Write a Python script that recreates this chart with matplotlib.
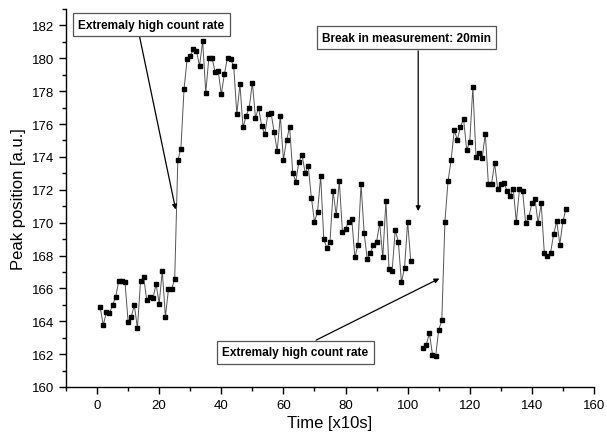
import numpy as np
import matplotlib
matplotlib.use("Agg")
import matplotlib.pyplot as plt
from matplotlib.ticker import MultipleLocator

plt.rcParams['font.family'] = ['Liberation Sans', 'DejaVu Sans']

# Data (time in units of 10 s)
time_before = np.arange(1, 102)
peak_before = [
    164.85, 163.77, 164.54, 164.50, 164.98, 165.49, 166.46, 166.46, 166.36, 163.97,
    164.27, 164.98, 163.57, 166.46, 166.67, 165.29, 165.49, 165.39, 166.26, 165.08,
    167.07, 164.27, 165.96, 165.96, 166.57, 173.80, 174.51, 178.12, 179.94, 180.14,
    180.55, 180.44, 179.53, 181.05, 177.91, 180.04, 180.04, 179.17, 179.25, 177.81,
    179.05, 180.04, 179.94, 179.53, 176.60, 178.42, 175.79, 176.50, 177.00, 178.52,
    176.39, 177.00, 175.89, 175.38, 176.60, 176.70, 175.53, 174.37, 176.50, 173.82,
    175.00, 175.82, 173.03, 172.50, 173.72, 174.12, 173.03, 173.43, 171.53, 170.05,
    170.66, 172.83, 168.98, 168.47, 168.85, 171.91, 170.46, 172.52, 169.44, 169.64,
    170.05, 170.25, 167.88, 168.65, 172.34, 169.34, 167.78, 168.15, 168.65, 168.85,
    169.95, 167.88, 171.33, 167.17, 167.07, 169.54, 168.85, 166.36, 167.27, 170.05,
    167.68,
]

time_after = np.arange(105, 152)
peak_after = [
    162.37, 162.57, 163.28, 161.97, 161.86, 163.47, 164.07, 170.05, 172.52, 173.82,
    175.62, 175.04, 175.82, 176.33, 174.43, 174.93, 178.26, 174.02, 174.22, 173.92,
    175.42, 172.34, 172.34, 173.62, 172.04, 172.34, 172.44, 171.93, 171.63, 172.04,
    170.05, 172.04, 171.93, 169.95, 170.35, 171.17, 171.45, 169.95, 171.17, 168.16,
    167.96, 168.16, 169.28, 170.09, 168.67, 170.09, 170.86,
]

# (text, text position, arrow start, arrow tip)
notes = [
    ("Extremaly high count rate", (17.4, 182.05), (13.6, 181.4), (25.3, 170.8)),
    ("Extremaly high count rate", (63.9, 162.1), (70.5, 162.85), (110.2, 166.6)),
    ("Break in measurement: 20min", (99.6, 181.25), (103.4, 180.45), (103.4, 170.7)),
]


def main():
    fig = plt.figure(figsize=(6.07, 4.39), dpi=100)
    ax = fig.add_axes([66 / 607, 51 / 439, 528 / 607, 378 / 439])

    for t, p in [(time_before, peak_before), (time_after, peak_after)]:
        ax.plot(t, p, color="#555555", lw=0.7, marker="s", ms=3.2,
                mfc="black", mec="black")

    for text, pos, start, tip in notes:
        ax.annotate("", xy=tip, xytext=start,
                    arrowprops=dict(arrowstyle="-|>", color="black", lw=0.9,
                                    mutation_scale=7, shrinkA=0, shrinkB=0))
        ax.text(pos[0], pos[1], text, ha="center", va="center", fontsize=8.6,
                fontweight="bold",
                bbox=dict(boxstyle="square,pad=0.45", fc="white", ec="#555555", lw=0.9))

    ax.set_xlim(-10, 160)
    ax.set_ylim(160, 183)
    ax.xaxis.set_major_locator(MultipleLocator(20))
    ax.xaxis.set_minor_locator(MultipleLocator(10))
    ax.yaxis.set_major_locator(MultipleLocator(2))
    ax.yaxis.set_minor_locator(MultipleLocator(1))
    ax.set_yticks(np.arange(160, 183, 2))
    ax.spines["top"].set_visible(False)
    ax.spines["right"].set_visible(False)
    for side in ("left", "bottom"):
        ax.spines[side].set_linewidth(1.0)
    ax.tick_params(which="major", length=5, width=1.0, labelsize=9.5, direction="out")
    ax.tick_params(which="minor", length=3, width=1.0, direction="out")

    ax.set_xlabel("Time [x10s]", fontsize=12, labelpad=3)
    ax.set_ylabel("Peak position [a.u.]", fontsize=12, labelpad=4)

    fig.savefig("out.png", dpi=100)


if __name__ == "__main__":
    main()
